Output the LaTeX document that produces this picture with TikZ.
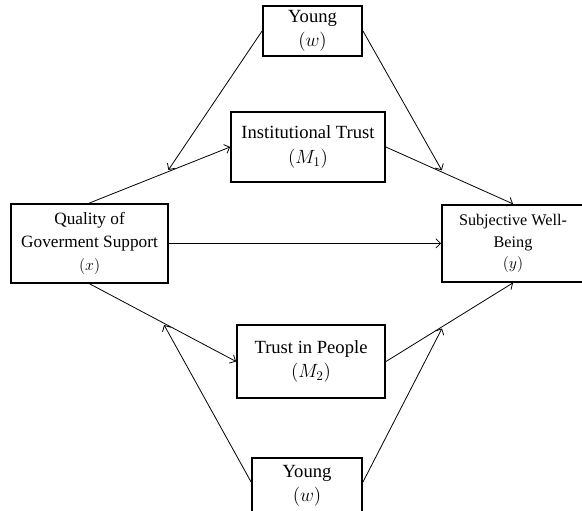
\documentclass[tikz,border=0pt]{standalone}
\usepackage{fontspec}
\setmainfont{Liberation Serif}
\usetikzlibrary{arrows.meta}

\begin{document}
\begin{tikzpicture}[node distance=30mm, >={Straight Barb[length=3.5pt,width=7pt]},
  box/.style={rectangle, draw, line width=1.4pt, align=center, inner sep=3pt, font=\fontsize{14}{18.5}\selectfont},
  link/.style={->, line width=0.6pt}]
  \useasboundingbox (-23.7mm,64.4mm) rectangle (130.3mm,-70.8mm);
  \node[box, minimum width=41.5mm, minimum height=20.9mm, font=\fontsize{13}{17.5}\selectfont] (qual) {Quality of\\ Goverment Support\\ $(x)$};
  \node[box, right of=qual, node distance=112.05mm, minimum width=37.6mm, minimum height=20.4mm, font=\fontsize{12.2}{16}\selectfont] (swb) {Subjective Well-\\ Being\\ $(y)$};
  \node[box, right of=qual, node distance=57.8mm, yshift=25.5mm, minimum width=40.7mm, minimum height=18.5mm] (inst) {Institutional Trust\\ $(M_1)$};
  \node[box, below of=inst, node distance=56.75mm, xshift=0.8mm, minimum width=39.2mm, minimum height=19.3mm] (tpeople) {Trust in People\\ $(M_2)$};
  \node[box, above of=inst, node distance=30.7mm, xshift=1.2mm, minimum width=26.2mm, minimum height=12.7mm] (ytop) {Young\\ $(w)$};
  \node[box, below of=tpeople, node distance=32.9mm, xshift=-1.06mm, minimum width=29.1mm, minimum height=14.8mm] (ybot) {Young\\ $(w)$};
  % paths through the mediators
  \draw[link] (qual.north) -- node[coordinate, pos=0.55] (m1) {} (inst.west);
  \draw[link] (inst.east) -- node[coordinate, pos=0.45] (m2) {} (swb.north);
  \draw[link] (qual.east) -- (swb.west);
  \draw[link] (qual.south) -- node[coordinate, pos=0.5] (m3) {} (tpeople.west);
  \draw[link] (tpeople.east) -- node[coordinate, pos=0.45] (m4) {} (swb.south);
  % moderator
  \draw[link, shorten >=2pt] (ytop.west) -- (m1);
  \draw[link, shorten >=2pt] (ytop.east) -- (m2);
  \draw[link, shorten >=2pt] ([yshift=1mm]ybot.west) -- (m3);
  \draw[link, shorten >=2pt] ([yshift=1mm]ybot.east) -- (m4);
\end{tikzpicture}
\end{document}
